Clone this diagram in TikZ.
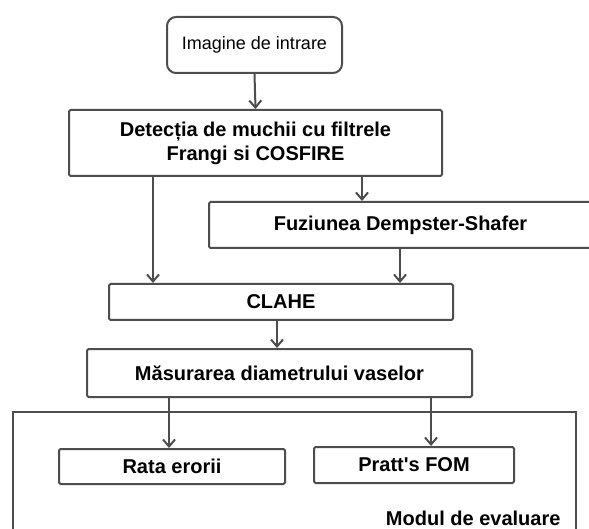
\documentclass[tikz,border=0pt]{standalone}
\usepackage{fontspec}
\setmainfont{Liberation Sans}[Ligatures=TeXOff]
\usetikzlibrary{arrows.meta}
\definecolor{linegray}{HTML}{4D4D4D}
\tikzset{
  box/.style={draw=linegray, line width=2pt, rectangle, rounded corners=1.5pt, inner sep=0pt, align=center,
    font=\fontsize{20}{24}\selectfont\bfseries},
  arr/.style={draw=linegray, line width=2pt, -{Straight Barb[length=7pt,width=12pt,line width=2pt]}},
  ln/.style={draw=linegray, line width=2pt}
}
\begin{document}
\begin{tikzpicture}[x=1pt,y=-1pt]
\useasboundingbox (0,0) rectangle (589,529);
\clip (0,0) rectangle (589,529);
\fill[white] (0,0) rectangle (589,529);
% evaluation module frame
\draw[ln, line width=1.6pt] (13,545) -- (13,412) -- (576,412) -- (576,545);
\node[anchor=base east, font=\fontsize{20}{24}\selectfont\bfseries] (modlabel) at (564,525) {Modul de evaluare};
% nodes
\node[box, rounded corners=9pt, minimum width=175pt, minimum height=56pt, font=\fontsize{18}{22}\selectfont] (img) at (254.5,45) {Imagine de intrare};
\node[box, minimum width=373pt, minimum height=66pt] (det) at (255.5,143) {Detecția de muchii cu filtrele\\Frangi si COSFIRE};
\node[box, minimum width=383pt, minimum height=46pt] (fus) at (400.5,225) {Fuziunea Dempster-Shafer};
\node[box, minimum width=344pt, minimum height=36pt] (clahe) at (281,302) {CLAHE};
\node[box, minimum width=385pt, minimum height=48pt] (meas) at (279.5,373) {Măsurarea diametrului vaselor};
\node[box, minimum width=226pt, minimum height=35pt] (rata) at (172,466.5) {Rata erorii};
\node[box, minimum width=200pt, minimum height=36pt] (pratt) at (414,465) {Pratt's FOM};
% helper x positions
\coordinate (xa) at (362,0);
\coordinate (xb) at (153,0);
\coordinate (xc) at (400,0);
\coordinate (xd) at (277,0);
\coordinate (xe) at (169,0);
\coordinate (xf) at (431,0);
% connectors
\draw[arr] (img.south) -- (det.north);
\draw[arr] (det.south -| xa) -- (fus.north -| xa);
\draw[arr] (det.south -| xb) -- (clahe.north -| xb);
\draw[arr] (fus.south -| xc) -- (clahe.north -| xc);
\draw[arr] (clahe.south -| xd) -- (meas.north -| xd);
\draw[arr] (meas.south -| xe) -- (rata.north -| xe);
\draw[arr] (meas.south -| xf) -- (pratt.north -| xf);
\end{tikzpicture}
\end{document}
